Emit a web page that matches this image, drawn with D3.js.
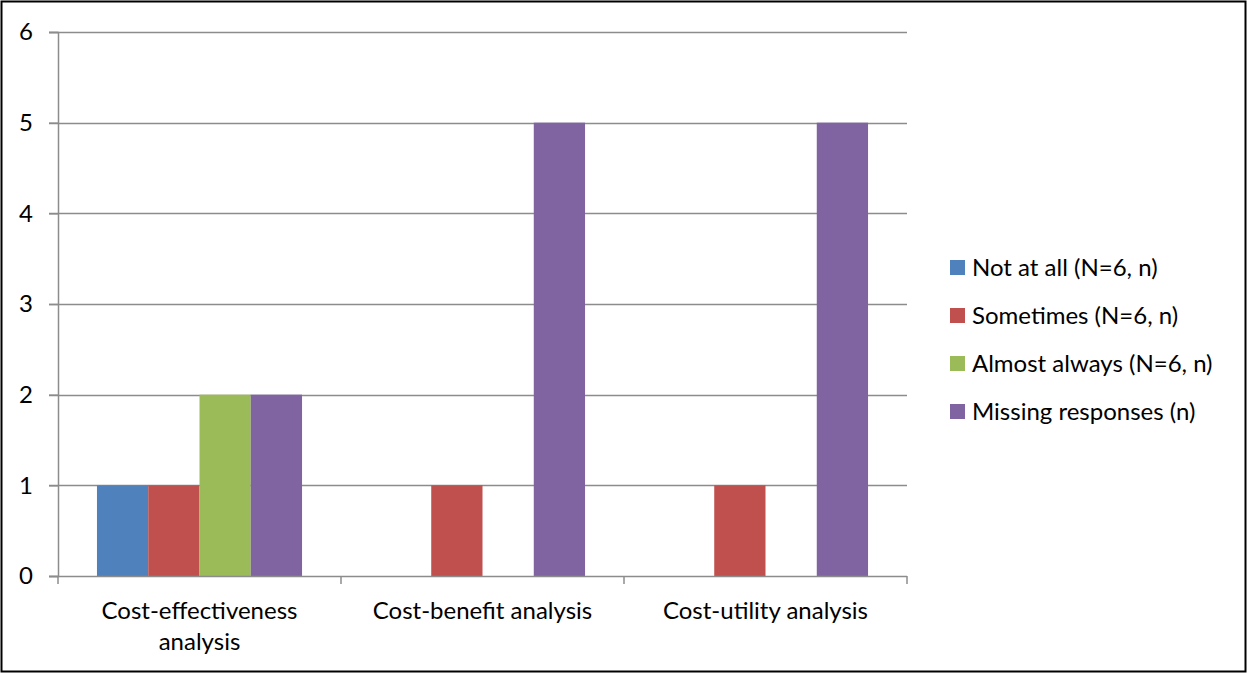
<!DOCTYPE html>
<html>
<head>
<meta charset="utf-8">
<script src="https://cdn.jsdelivr.net/npm/d3@7"></script>
<style>
  body { margin: 0; background: #fff; }
  svg text { font-family: Lato, "Open Sans", sans-serif; fill: #000; }
</style>
</head>
<body>
<div id="chart"></div>
<script>
// categories and series
var categories = ["Cost-effectiveness analysis", "Cost-benefit analysis", "Cost-utility analysis"];
var seriesNames = ["Not at all (N=6, n)", "Sometimes (N=6, n)", "Almost always (N=6, n)", "Missing responses (n)"];
var notAtAll = [1, 0, 0];
var sometimes = [1, 1, 1];
var almostAlways = [2, 0, 0];
var missing = [2, 5, 5];
var yTicks = [0, 1, 2, 3, 4, 5, 6];

var colors = ["#4F81BD", "#C0504D", "#9BBB59", "#8064A2"];
var seriesValues = [notAtAll, sometimes, almostAlways, missing];

var svgWidth = 1247, svgHeight = 673;
var margin = { top: 32, right: 340, bottom: 97, left: 58 };
var width = svgWidth - margin.left - margin.right;
var height = svgHeight - margin.top - margin.bottom;
var fontSize = "24px";

var svg = d3.select("#chart").append("svg")
    .attr("width", svgWidth)
    .attr("height", svgHeight);

// outer frame
svg.append("rect")
    .attr("x", 1.5).attr("y", 1.5)
    .attr("width", svgWidth - 3).attr("height", svgHeight - 3)
    .attr("fill", "none").attr("stroke", "#000").attr("stroke-width", 2);

var chartGroup = svg.append("g")
    .attr("transform", `translate(${margin.left}, ${margin.top})`);

var x0 = d3.scaleBand().domain(categories).range([0, width]).paddingInner(0).paddingOuter(0);
var x1 = d3.scaleBand().domain(d3.range(seriesNames.length))
    .range([0, x0.bandwidth()]).paddingOuter(0.76).paddingInner(0);
var y = d3.scaleLinear().domain([0, 6]).range([height, 0]);

// gridlines
chartGroup.append("g").selectAll("line")
    .data(yTicks.slice(1))
    .enter().append("line")
    .attr("x1", -9).attr("x2", width)
    .attr("y1", d => Math.round(y(d)) + 0.5).attr("y2", d => Math.round(y(d)) + 0.5)
    .attr("stroke", "#8c8c8c").attr("stroke-width", 1.5);

// bars
var rows = [];
categories.forEach(function(c, i) {
  seriesValues.forEach(function(vals, s) {
    rows.push({ cat: c, s: s, v: vals[i] });
  });
});
chartGroup.selectAll("rect.bar")
    .data(rows.filter(d => d.v > 0))
    .enter().append("rect")
    .attr("class", "bar")
    .attr("x", d => x0(d.cat) + x1(d.s))
    .attr("width", x1.bandwidth())
    .attr("y", d => y(d.v))
    .attr("height", d => height - y(d.v))
    .attr("fill", d => colors[d.s]);

// y axis
var leftAxis = d3.axisLeft(y).tickValues(yTicks).tickSize(9).tickPadding(16).tickFormat(d3.format("d"));
var yAxis = chartGroup.append("g").call(leftAxis);
yAxis.select(".domain").attr("stroke", "#8c8c8c").attr("stroke-width", 1.5);
yAxis.selectAll(".tick line").attr("stroke", "#8c8c8c").attr("stroke-width", 1.5);
yAxis.selectAll("text").style("font-size", fontSize);

// x axis
var xAxis = chartGroup.append("g").attr("transform", `translate(0, ${height})`);
xAxis.append("line")
    .attr("x1", -9).attr("x2", width).attr("y1", 0.5).attr("y2", 0.5)
    .attr("stroke", "#8c8c8c").attr("stroke-width", 1.5);
xAxis.selectAll("line.tick")
    .data(d3.range(categories.length + 1))
    .enter().append("line")
    .attr("x1", d => d * x0.bandwidth()).attr("x2", d => d * x0.bandwidth())
    .attr("y1", 0).attr("y2", 8)
    .attr("stroke", "#8c8c8c").attr("stroke-width", 1.5);

var xLabels = xAxis.selectAll("text.cat")
    .data(categories)
    .enter().append("text")
    .attr("text-anchor", "middle")
    .attr("x", d => x0(d) + x0.bandwidth() / 2)
    .attr("y", 43)
    .style("font-size", fontSize);
xLabels.each(function(d) {
  var t = d3.select(this);
  var lines = d === "Cost-effectiveness analysis" ? ["Cost-effectiveness", "analysis"] : [d];
  lines.forEach(function(l, i) {
    t.append("tspan").attr("x", x0(d) + x0.bandwidth() / 2).attr("dy", i === 0 ? 0 : 31).text(l);
  });
});

// legend
var legend = svg.append("g").attr("transform", "translate(950, 260)");
var items = legend.selectAll("g")
    .data(seriesNames)
    .enter().append("g")
    .attr("transform", (d, i) => `translate(0, ${i * 48})`);
items.append("rect").attr("width", 15).attr("height", 15).attr("fill", (d, i) => colors[i]);
items.append("text").attr("x", 22).attr("y", 16).style("font-size", fontSize).text(d => d);
</script>
</body>
</html>
